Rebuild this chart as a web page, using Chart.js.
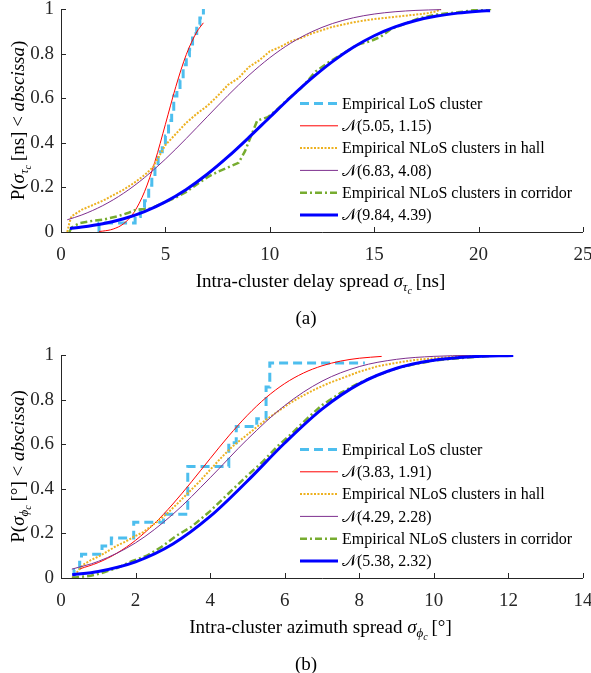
<!DOCTYPE html>
<html>
<head>
<meta charset="utf-8">
<script src="https://cdn.jsdelivr.net/npm/chart.js@4.4.1/dist/chart.umd.min.js"></script>
<style>
html, body { margin: 0; padding: 0; background: #fff; }
#wrap { position: relative; width: 591px; height: 673px; }
canvas { position: absolute; left: 0; }
</style>
</head>
<body>
<div id="wrap">
<canvas id="delayChart" width="591" height="336" style="top:0px"></canvas>
<canvas id="azimuthChart" width="591" height="337" style="top:336px"></canvas>
</div>
<script>
// ---- (a) intra-cluster delay spread [ns] ----
var aLabels = ["Empirical LoS cluster", "\u{1D4A9}(5.05, 1.15)", "Empirical NLoS clusters in hall",
               "\u{1D4A9}(6.83, 4.08)", "Empirical NLoS clusters in corridor", "\u{1D4A9}(9.84, 4.39)"];
var aXTicks = [0, 5, 10, 15, 20, 25];

var aLosX = [1.82, 1.82, 3.55, 3.8, 4.0, 4.2, 4.35, 4.5, 4.65, 4.85, 5.0, 5.15, 5.3, 5.4, 5.55, 5.7, 5.85, 6.0, 6.15, 6.3, 6.5, 6.65, 6.82];
var aLosY = [0, 0.04, 0.07, 0.11, 0.14, 0.21, 0.25, 0.29, 0.36, 0.39, 0.43, 0.5, 0.54, 0.61, 0.64, 0.68, 0.75, 0.79, 0.82, 0.89, 0.93, 0.96, 1.0];

var aLosFitX = [1.82, 2.0, 2.5, 3.0, 3.5, 4.0, 4.5, 5.0, 5.5, 6.0, 6.5, 6.82];
var aLosFitY = [0.0025, 0.004, 0.0133, 0.0373, 0.0888, 0.1806, 0.3163, 0.4828, 0.652, 0.7956, 0.8964, 0.938];

var aHallX = [0.3, 0.4, 0.5, 1.0, 1.5, 2.0, 2.5, 3.0, 3.5, 4.0, 4.4, 4.7, 5.0, 5.5, 6.0, 6.5, 7.0, 7.5, 8.0, 8.5,
              9.0, 9.5, 10.0, 10.5, 11.0, 11.5, 12.0, 12.5, 13.0, 13.5, 14.0, 14.5, 15.0, 15.5, 16.0, 16.5, 17.0, 17.5, 18.0, 18.2];
var aHallY = [0, 0.04, 0.07, 0.1, 0.12, 0.14, 0.165, 0.19, 0.22, 0.255, 0.29, 0.34, 0.39, 0.44, 0.49, 0.53, 0.565, 0.61, 0.66, 0.69,
              0.74, 0.77, 0.81, 0.83, 0.855, 0.87, 0.89, 0.905, 0.92, 0.93, 0.94, 0.948, 0.955, 0.96, 0.965, 0.97, 0.975, 0.98, 0.99, 1.0];

var aHallFitX = [0.3, 1, 2, 3, 4, 5, 6, 7, 8, 9, 10, 11, 12, 13, 14, 15, 16, 17, 18.2];
var aHallFitY = [0.0548, 0.0765, 0.1183, 0.1739, 0.2439, 0.3268, 0.4195, 0.5166, 0.6128, 0.7026, 0.7815, 0.8466, 0.8974, 0.9348, 0.9606, 0.9774, 0.9877, 0.9937, 0.9973];

var aCorrX = [0.4, 0.5, 0.9, 1.5, 2.0, 2.7, 3.2, 3.6, 4.3, 5.0, 5.5, 6.0, 6.6, 7.0, 7.5, 8.0, 8.5, 8.8, 9.1, 9.4,
              9.9, 10.3, 10.8, 11.5, 12.2, 12.8, 13.5, 14.2, 14.8, 15.3, 15.8, 16.5, 17.2, 18.0, 19.0, 19.8, 20.6];
var aCorrY = [0, 0.02, 0.04, 0.05, 0.055, 0.07, 0.085, 0.1, 0.105, 0.135, 0.155, 0.18, 0.22, 0.245, 0.27, 0.29, 0.31, 0.36, 0.43, 0.5,
              0.515, 0.545, 0.59, 0.645, 0.72, 0.76, 0.8, 0.84, 0.855, 0.875, 0.91, 0.935, 0.96, 0.975, 0.985, 0.995, 1.0];

var aCorrFitX = [0.43, 1, 2, 3, 4, 5, 6, 7, 8, 9, 10, 11, 12, 13, 14, 15, 16, 17, 18, 19, 20, 20.55];
var aCorrFitY = [0.016, 0.022, 0.037, 0.0596, 0.0917, 0.1351, 0.1908, 0.2588, 0.3376, 0.4242, 0.5145, 0.6042, 0.6886, 0.7642, 0.8284, 0.8801, 0.9197, 0.9486, 0.9685, 0.9815, 0.9897, 0.9927];

// ---- (b) intra-cluster azimuth spread [deg] ----
var bLabels = ["Empirical LoS cluster", "\u{1D4A9}(3.83, 1.91)", "Empirical NLoS clusters in hall",
               "\u{1D4A9}(4.29, 2.28)", "Empirical NLoS clusters in corridor", "\u{1D4A9}(5.38, 2.32)"];
var bXTicks = [0, 2, 4, 6, 8, 10, 12, 14];

var bLosX = [0.35, 0.35, 0.5, 0.55, 1.1, 1.35, 1.95, 2.75, 3.4, 4.5, 4.7, 5.25, 5.5, 5.6, 8.15];
var bLosY = [0, 0.036, 0.071, 0.107, 0.143, 0.179, 0.25, 0.286, 0.5, 0.607, 0.679, 0.714, 0.857, 0.964, 0.964];

var bLosFitX = [0.5, 1, 1.5, 2, 2.5, 3, 3.5, 4, 4.5, 5, 5.5, 6, 6.5, 7, 7.5, 8, 8.6];
var bLosFitY = [0.0407, 0.0692, 0.1113, 0.169, 0.2431, 0.3318, 0.4314, 0.5355, 0.6372, 0.73, 0.809, 0.872, 0.9189, 0.9515, 0.9727, 0.9855, 0.9937];

var bHallX = [0.3, 0.45, 0.6, 0.8, 1.05, 1.3, 1.5, 1.75, 1.95, 2.2, 2.4, 2.6, 2.85, 3.1, 3.4, 3.7, 4.0, 4.3, 4.6, 4.9,
              5.2, 5.5, 5.8, 6.1, 6.4, 6.8, 7.2, 7.6, 8.0, 8.5, 9.0, 9.5, 10.0, 10.6, 11.3, 12.0];
var bHallY = [0, 0.03, 0.06, 0.08, 0.1, 0.125, 0.145, 0.165, 0.185, 0.205, 0.23, 0.255, 0.29, 0.33, 0.38, 0.43, 0.485, 0.54, 0.59, 0.63,
              0.67, 0.71, 0.745, 0.78, 0.81, 0.845, 0.875, 0.9, 0.925, 0.95, 0.965, 0.978, 0.985, 0.993, 0.998, 1.0];

var bHallFitX = [0.29, 1, 2, 3, 4, 5, 6, 7, 8, 9, 10, 11, 12.1];
var bHallFitY = [0.0397, 0.0745, 0.1577, 0.2857, 0.4494, 0.6222, 0.7734, 0.8827, 0.9481, 0.9806, 0.9939, 0.9984, 0.9997];

var bCorrX = [0.3, 0.5, 0.8, 1.05, 1.5, 1.9, 2.3, 2.7, 3.1, 3.5, 4.0, 4.5, 5.0, 5.4, 5.8, 6.2, 6.6, 7.0, 7.5, 8.0,
              8.5, 9.0, 9.5, 10.0, 10.5, 11.0, 11.5, 12.0];
var bCorrY = [0, 0.005, 0.01, 0.02, 0.045, 0.075, 0.1, 0.14, 0.19, 0.23, 0.3, 0.38, 0.46, 0.52, 0.59, 0.65, 0.715, 0.775, 0.83, 0.875,
              0.91, 0.94, 0.96, 0.975, 0.983, 0.99, 0.996, 1.0];

var bCorrFitX = [0.3, 1, 2, 3, 4, 5, 6, 7, 8, 9, 10, 11, 12.13];
var bCorrFitY = [0.0143, 0.0295, 0.0726, 0.1525, 0.276, 0.435, 0.6054, 0.7575, 0.8706, 0.9407, 0.9768, 0.9923, 0.9982];

var SERIF = "'Liberation Serif', 'Times New Roman', serif";
var AXIS_COLOR = "#262626";

// line look of the six series, same order as the labels
var looks = [
    { color: "#4DBEEE", width: 3, dash: [9, 5], stepped: true, order: 6 },
    { color: "#FF0000", width: 1, dash: [], fit: true, order: 5 },
    { color: "#EDB120", width: 2, dash: [2, 1.5], order: 4 },
    { color: "#7E2F8E", width: 1, dash: [], fit: true, order: 3 },
    { color: "#77AC30", width: 2.5, dash: [7, 3, 2, 3], order: 2 },
    { color: "#0000FF", width: 3, dash: [], fit: true, order: 1 }
];

function pts(xs, ys) {
    return xs.map(function (x, i) { return { x: x, y: ys[i] }; });
}

function makeDatasets(labels, series) {
    return series.map(function (s, i) {
        var lk = looks[i];
        return {
            label: labels[i],
            data: pts(s[0], s[1]),
            borderColor: lk.color,
            backgroundColor: lk.color,
            borderWidth: lk.width,
            borderDash: lk.dash,
            borderCapStyle: "butt",
            stepped: lk.stepped ? true : false,
            cubicInterpolationMode: lk.fit ? "monotone" : "default",
            tension: 0,
            pointRadius: 0,
            fill: false,
            order: lk.order
        };
    });
}

function fontOf(s) {
    return (s.i ? "italic " : "") + s.size + "px " + SERIF;
}

// draw a line of text made of pieces (italic, sub-scripts)
function drawRich(ctx, segs, cx, cy, vertical) {
    var total = 0;
    segs.forEach(function (s) {
        ctx.font = fontOf(s);
        s.w = ctx.measureText(s.t).width;
        total += s.w;
    });
    ctx.save();
    ctx.translate(cx, cy);
    if (vertical) ctx.rotate(-Math.PI / 2);
    ctx.textBaseline = "alphabetic";
    ctx.textAlign = "left";
    ctx.fillStyle = "#000";
    var x = -total / 2;
    segs.forEach(function (s) {
        ctx.font = fontOf(s);
        ctx.fillText(s.t, x, 6 + (s.dy || 0));
        x += s.w;
    });
    ctx.restore();
}

var decor = {
    id: "decor",
    afterDatasetsDraw: function (chart) {
        var ctx = chart.ctx, a = chart.chartArea;
        var xs = chart.scales.x, ys = chart.scales.y;
        ctx.save();
        ctx.strokeStyle = AXIS_COLOR;
        ctx.lineWidth = 1;
        ctx.beginPath();
        ctx.moveTo(a.left + 0.5, a.top);
        ctx.lineTo(a.left + 0.5, a.bottom + 0.5);
        ctx.lineTo(a.right, a.bottom + 0.5);
        xs.ticks.forEach(function (t) {
            var px = Math.round(xs.getPixelForValue(t.value)) + 0.5;
            ctx.moveTo(px, a.bottom);
            ctx.lineTo(px, a.bottom - 5);
        });
        ys.ticks.forEach(function (t) {
            var py = Math.round(ys.getPixelForValue(t.value)) + 0.5;
            ctx.moveTo(a.left, py);
            ctx.lineTo(a.left + 5, py);
        });
        ctx.stroke();
        ctx.restore();
    },
    afterDraw: function (chart) {
        var ctx = chart.ctx, a = chart.chartArea;
        var opt = chart.options.plugins.decor;
        // legend inside the axes, lower right
        ctx.save();
        chart.data.datasets.forEach(function (ds, i) {
            var y = a.bottom - 128.5 + i * 22.3;
            ctx.strokeStyle = ds.borderColor;
            ctx.lineWidth = ds.borderWidth;
            ctx.setLineDash(ds.borderDash);
            ctx.lineCap = "butt";
            ctx.beginPath();
            ctx.moveTo(300, y);
            ctx.lineTo(338, y);
            ctx.stroke();
            ctx.setLineDash([]);
            ctx.fillStyle = "#000";
            ctx.font = "16px " + SERIF;
            ctx.textBaseline = "middle";
            ctx.textAlign = "left";
            ctx.fillText(ds.label, 342, y + 1);
        });
        ctx.restore();
        drawRich(ctx, opt.yTitle, 18, (a.top + a.bottom) / 2, true);
        drawRich(ctx, opt.xTitle, (a.left + a.right) / 2 - 1.5, a.bottom + 49, false);
        drawRich(ctx, [{ t: opt.caption, size: 19 }], 306, a.bottom + 86, false);
    }
};

function makeChart(id, cfg) {
    var height = document.getElementById(id).height;
    return new Chart(document.getElementById(id).getContext("2d"), {
        type: "line",
        data: { datasets: makeDatasets(cfg.labels, cfg.series) },
        plugins: [decor],
        options: {
            responsive: false,
            animation: false,
            devicePixelRatio: 1,
            layout: { padding: { top: cfg.top, right: 8, left: 0, bottom: 0 } },
            plugins: {
                legend: { display: false },
                tooltip: { enabled: false },
                decor: { yTitle: cfg.yTitle, xTitle: cfg.xTitle, caption: cfg.caption }
            },
            scales: {
                x: {
                    type: "linear",
                    min: cfg.xTicks[0],
                    max: cfg.xTicks[cfg.xTicks.length - 1],
                    afterBuildTicks: function (s) {
                        s.ticks = cfg.xTicks.map(function (v) { return { value: v }; });
                    },
                    ticks: { font: { family: SERIF, size: 19 }, color: AXIS_COLOR, padding: 12, maxRotation: 0, autoSkip: false },
                    grid: { display: false, drawTicks: false },
                    border: { display: false },
                    afterFit: function (s) {
                        s.height = height - cfg.top - 223;
                        s.paddingLeft = 0;
                        s.paddingRight = 0;
                    }
                },
                y: {
                    min: 0,
                    max: 1,
                    ticks: {
                        stepSize: 0.2,
                        font: { family: SERIF, size: 19 },
                        color: AXIS_COLOR,
                        padding: 7,
                        callback: function (v) { return String(Number(v.toFixed(2))); }
                    },
                    grid: { display: false, drawTicks: false },
                    border: { display: false },
                    afterFit: function (s) {
                        s.width = 61;
                        s.paddingTop = 0;
                        s.paddingBottom = 0;
                    }
                }
            }
        }
    });
}

makeChart("delayChart", {
    labels: aLabels,
    xTicks: aXTicks,
    top: 9,
    series: [[aLosX, aLosY], [aLosFitX, aLosFitY], [aHallX, aHallY], [aHallFitX, aHallFitY], [aCorrX, aCorrY], [aCorrFitX, aCorrFitY]],
    yTitle: [{ t: "P(", size: 19 }, { t: "\u03C3", i: 1, size: 19 }, { t: "\u03C4", i: 1, size: 13, dy: 4 }, { t: "c", i: 1, size: 10, dy: 7 },
             { t: "\u2009[ns] < ", size: 19 }, { t: "abscissa", i: 1, size: 19 }, { t: ")", size: 19 }],
    xTitle: [{ t: "Intra-cluster delay spread ", size: 19 }, { t: "\u03C3", i: 1, size: 19 }, { t: "\u03C4", i: 1, size: 13, dy: 4 },
             { t: "c", i: 1, size: 10, dy: 7 }, { t: "\u2009[ns]", size: 19 }],
    caption: "(a)"
});

makeChart("azimuthChart", {
    labels: bLabels,
    xTicks: bXTicks,
    top: 19,
    series: [[bLosX, bLosY], [bLosFitX, bLosFitY], [bHallX, bHallY], [bHallFitX, bHallFitY], [bCorrX, bCorrY], [bCorrFitX, bCorrFitY]],
    yTitle: [{ t: "P(", size: 19 }, { t: "\u03C3", i: 1, size: 19 }, { t: "\u03D5", i: 1, size: 13, dy: 4 }, { t: "c", i: 1, size: 10, dy: 7 },
             { t: "\u2009[\u00B0] < ", size: 19 }, { t: "abscissa", i: 1, size: 19 }, { t: ")", size: 19 }],
    xTitle: [{ t: "Intra-cluster azimuth spread ", size: 19 }, { t: "\u03C3", i: 1, size: 19 }, { t: "\u03D5", i: 1, size: 13, dy: 4 },
             { t: "c", i: 1, size: 10, dy: 7 }, { t: "\u2009[\u00B0]", size: 19 }],
    caption: "(b)"
});
</script>
</body>
</html>
